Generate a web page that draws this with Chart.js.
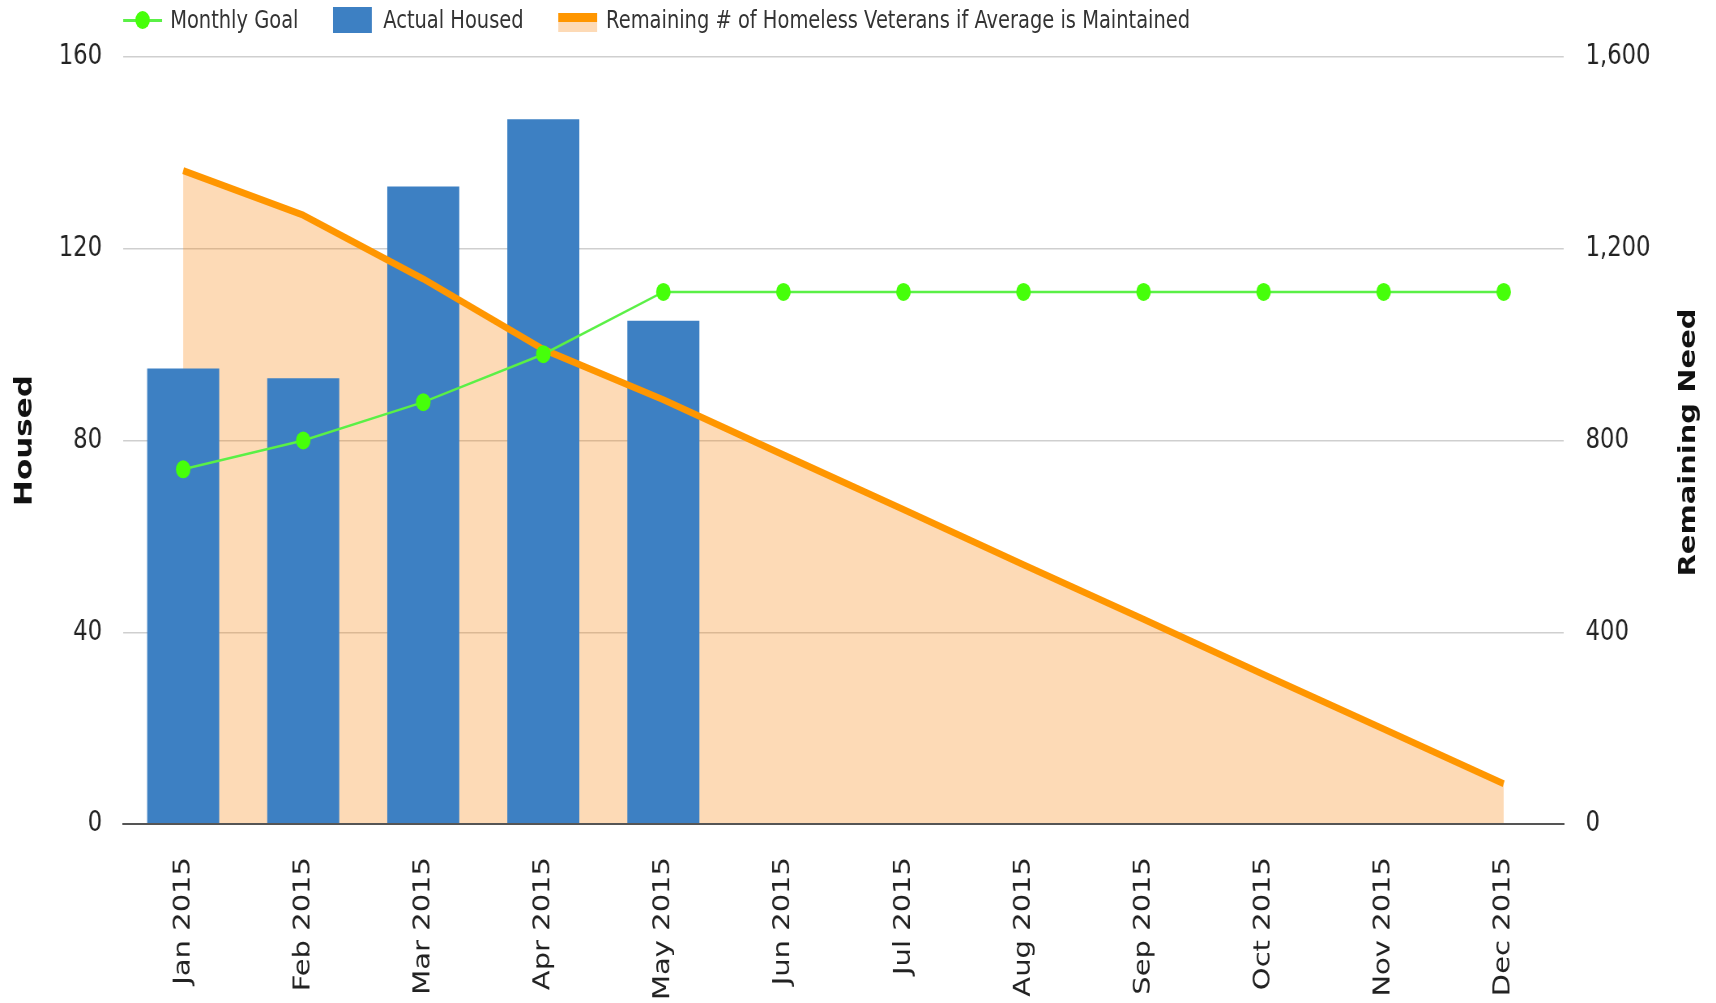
<!DOCTYPE html>
<html>
<head>
<meta charset="utf-8">
<script src="https://cdn.jsdelivr.net/npm/chart.js@4"></script>
<style>
html, body { margin: 0; padding: 0; background: #fff; overflow: hidden; }
/* the reference is squeezed sideways, so draw wide and squeeze */
#wrap { position: absolute; left: 0; top: 0; width: 2118px; height: 1003px; transform: scaleX(0.8102); transform-origin: 0 0; }
#chart { position: absolute; left: 0; top: 0; }
#legend { position: absolute; left: 0; top: 0; width: 100%; height: 40px; font-family: "DejaVu Sans", Verdana, sans-serif; font-size: 24px; color: #333; }
.txt { position: absolute; top: 0; height: 40px; line-height: 40px; white-space: nowrap; }
.mk { position: absolute; }
</style>
</head>
<body>
<div id="wrap">
  <canvas id="chart" width="2118" height="1003"></canvas>
  <div id="legend">
    <div class="mk" style="left:152px;top:19px;width:48px;height:3px;background:rgb(90,240,70)"></div>
    <div class="mk" style="left:167px;top:11px;width:18px;height:18px;border-radius:50%;background:rgb(70,255,10)"></div>
    <div class="txt" style="left:210px">Monthly Goal</div>
    <div class="mk" style="left:411px;top:7px;width:48px;height:26px;background:#3d80c3"></div>
    <div class="txt" style="left:473px">Actual Housed</div>
    <div class="mk" style="left:689px;top:22px;width:48px;height:10px;background:rgb(253,218,182)"></div>
    <div class="mk" style="left:689px;top:13px;width:48px;height:9px;background:rgb(255,150,0)"></div>
    <div class="txt" style="left:748px">Remaining # of Homeless Veterans if Average is Maintained</div>
  </div>
</div>
<script>
// values
var months = ['Jan 2015', 'Feb 2015', 'Mar 2015', 'Apr 2015', 'May 2015', 'Jun 2015',
              'Jul 2015', 'Aug 2015', 'Sep 2015', 'Oct 2015', 'Nov 2015', 'Dec 2015'];
var monthlyGoal = [74, 80, 88, 98, 111, 111, 111, 111, 111, 111, 111, 111];
var actualHoused = [95, 93, 133, 147, 105, null, null, null, null, null, null, null];
var remainingNeed = [1363, 1270, 1137, 990, 885, 770, 656, 541, 427, 312, 198, 84];
var housedTicks = [0, 40, 80, 120, 160];
var needTicks = [0, 400, 800, 1200, 1600];

var fontFamily = '"DejaVu Sans", Verdana, sans-serif';

// right axis title reads bottom to top, like the left one
var rightTitle = {
    id: 'rightTitle',
    afterDraw: function (chart) {
        var s = chart.scales.y1;
        var a = chart.chartArea;
        var ctx = chart.ctx;
        ctx.save();
        ctx.translate(s.right - 34, (a.top + a.bottom) / 2 + 2);
        ctx.rotate(-Math.PI / 2);
        ctx.font = 'bold 29px ' + fontFamily;
        ctx.fillStyle = '#111';
        ctx.textAlign = 'center';
        ctx.textBaseline = 'middle';
        ctx.fillText('Remaining Need', 0, 0);
        ctx.restore();
    }
};

var ctx = document.getElementById('chart').getContext('2d');
new Chart(ctx, {
    type: 'bar',
    data: {
        labels: months,
        datasets: [{
            type: 'line',
            label: 'Monthly Goal',
            data: monthlyGoal,
            yAxisID: 'y',
            borderColor: 'rgb(90,240,70)',
            borderWidth: 2.5,
            pointRadius: 9,
            pointBorderWidth: 0,
            pointBackgroundColor: 'rgb(70,255,10)',
            tension: 0,
            fill: false,
            order: 0
        }, {
            type: 'line',
            label: 'Remaining # of Homeless Veterans if Average is Maintained',
            data: remainingNeed,
            yAxisID: 'y1',
            borderColor: 'rgb(255,150,0)',
            borderWidth: 7,
            borderCapStyle: 'butt',
            borderJoinStyle: 'round',
            backgroundColor: 'rgba(248,132,12,0.3)',
            fill: 'origin',
            pointRadius: 0,
            tension: 0,
            order: 1
        }, {
            type: 'bar',
            label: 'Actual Housed',
            data: actualHoused,
            yAxisID: 'y',
            backgroundColor: '#3d80c3',
            categoryPercentage: 1,
            barPercentage: 0.6,
            order: 2
        }]
    },
    options: {
        responsive: false,
        animation: false,
        devicePixelRatio: 1,
        layout: { padding: { top: 57, left: 0, right: 0, bottom: 0 } },
        plugins: {
            legend: { display: false },
            tooltip: { enabled: false },
            filler: { drawTime: 'beforeDatasetsDraw' }
        },
        scales: {
            x: {
                grid: { display: false },
                border: { display: true, color: '#555', width: 2, z: 1 },
                ticks: {
                    autoSkip: false,
                    minRotation: 90,
                    maxRotation: 90,
                    padding: 25,
                    color: '#222',
                    font: { family: fontFamily, size: 29 }
                },
                afterFit: function (scale) { scale.height = 179; }
            },
            y: {
                position: 'left',
                min: 0,
                max: 160,
                afterBuildTicks: function (scale) {
                    scale.ticks = housedTicks.map(function (v) { return { value: v }; });
                },
                grid: { color: '#cfcfcf', lineWidth: 1.5, drawTicks: false },
                border: { display: false },
                ticks: {
                    padding: 26,
                    color: '#222',
                    font: { family: fontFamily, size: 28 }
                },
                title: {
                    display: true,
                    text: 'Housed',
                    color: '#111',
                    font: { family: fontFamily, size: 31, weight: 'bold' },
                    padding: { top: 12, bottom: 0 }
                },
                afterFit: function (scale) { scale.width = 152; }
            },
            y1: {
                position: 'right',
                min: 0,
                max: 1600,
                afterBuildTicks: function (scale) {
                    scale.ticks = needTicks.map(function (v) { return { value: v }; });
                },
                grid: { display: false, drawTicks: false },
                border: { display: false },
                ticks: {
                    padding: 27,
                    color: '#222',
                    font: { family: fontFamily, size: 28 },
                    callback: function (v) { return v.toLocaleString('en-US'); }
                },
                afterFit: function (scale) { scale.width = 188; }
            }
        }
    },
    plugins: [rightTitle]
});
</script>
</body>
</html>
